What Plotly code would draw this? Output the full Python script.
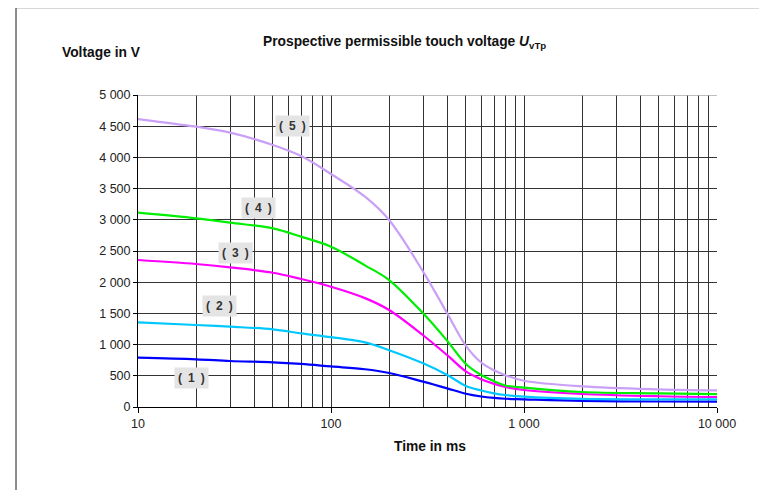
import math
import plotly.graph_objects as go

time_ms = [10, 20, 30, 50, 70, 100, 150, 200, 300, 400, 500, 600, 700, 800, 1000, 2000, 5000, 10000]

curve_1 = [790, 764, 737, 716, 690, 650, 605, 545, 406, 299, 212, 168, 145, 132, 123, 98, 88, 85]
curve_2 = [1357, 1314, 1287, 1245, 1180, 1120, 1035, 910, 700, 513, 337, 265, 219, 192, 165, 130, 123, 123]
curve_3 = [2356, 2292, 2238, 2152, 2051, 1928, 1745, 1555, 1150, 830, 570, 445, 370, 320, 272, 208, 172, 160]
curve_4 = [3114, 3023, 2954, 2863, 2730, 2569, 2270, 2035, 1501, 1060, 690, 513, 414, 345, 310, 240, 219, 206]
curve_5 = [4615, 4492, 4396, 4199, 4022, 3734, 3370, 2997, 2169, 1501, 980, 713, 588, 510, 420, 330, 283, 267]

curves = [curve_1, curve_2, curve_3, curve_4, curve_5]
curve_names = ["( 1 )", "( 2 )", "( 3 )", "( 4 )", "( 5 )"]
curve_colors = ["#0000FF", "#00C8FF", "#FF00FF", "#00EE00", "#C9A0F5"]

label_x = [18.96, 26.56, 32.14, 41.92, 62.85]
label_y = [470, 1619, 2463, 3194, 4503]

y_ticks = [0, 500, 1000, 1500, 2000, 2500, 3000, 3500, 4000, 4500, 5000]
y_ticktext = ["0", "500", "1 000", "1 500", "2 000", "2 500", "3 000", "3 500", "4 000", "4 500", "5 000"]
x_ticks = [10, 100, 1000, 10000]
x_ticktext = ["10", "100", "1 000", "10 000"]
x_minor = [m * d for d in [10, 100, 1000] for m in range(2, 10)]

fig = go.Figure()
for vals, name, col in zip(curves, curve_names, curve_colors):
    fig.add_trace(go.Scatter(
        x=time_ms, y=vals, mode="lines", name=name,
        line=dict(color=col, width=2.2, shape="spline", smoothing=1.0),
        showlegend=False, hoverinfo="x+y"))

for lx, ly, txt in zip(label_x, label_y, curve_names):
    fig.add_annotation(x=math.log10(lx), y=ly, xref="x", yref="y",
                       text="<b>" + txt.replace(" ", "\u2002") + "</b>", showarrow=False,
                       font=dict(family="Liberation Sans", size=12, color="#333333"),
                       bgcolor="#E4E4E4", borderpad=3, xanchor="center", yanchor="middle")

grid_col = "#333333"
fig.update_xaxes(
    type="log", range=[1, 4], tickvals=x_ticks, ticktext=x_ticktext,
    showgrid=True, gridcolor=grid_col, gridwidth=1,
    ticks="outside", ticklen=5, tickcolor="#000000",
    minor=dict(tickvals=x_minor, showgrid=True, gridcolor=grid_col, gridwidth=1, ticks=""),
    showline=True, linecolor="#000000", linewidth=1, zeroline=False,
    tickfont=dict(family="Liberation Sans", size=12.5, color="#222222"))
fig.update_yaxes(
    range=[0, 5000], tickvals=y_ticks, ticktext=y_ticktext,
    showgrid=True, gridcolor=grid_col, gridwidth=1,
    ticks="outside", ticklen=4, tickcolor="#000000",
    showline=True, linecolor="#000000", linewidth=1, zeroline=False,
    tickfont=dict(family="Liberation Sans", size=12.5, color="#222222"))

# lighter top edge
fig.add_shape(type="line", xref="paper", yref="y", x0=0, x1=1, y0=5000, y1=5000,
              line=dict(color="#AAAAAA", width=1.5), layer="above")
# outer frame (left and top edges)
fig.add_shape(type="line", xref="paper", yref="paper", x0=-0.2107, x1=-0.2107, y0=-0.3, y1=1.2804,
              line=dict(color="#666666", width=1.5))
fig.add_shape(type="line", xref="paper", yref="paper", x0=-0.2107, x1=1.2, y0=1.2804, y1=1.2804,
              line=dict(color="#666666", width=1.5))

title_font = dict(family="Liberation Sans", size=13.8, color="#111111")
fig.add_annotation(xref="paper", yref="paper", x=0.461, y=1.1667, showarrow=False,
                   text="<b>Prospective permissible touch voltage <i>U</i><sub>vTp</sub></b>",
                   font=title_font, xanchor="center", yanchor="middle")
fig.add_annotation(xref="paper", yref="paper", x=-0.1347, y=1.1378, showarrow=False,
                   text="<b>Voltage in V</b>", font=title_font,
                   xanchor="left", yanchor="middle")
fig.add_annotation(xref="paper", yref="paper", x=0.504, y=-0.128, showarrow=False,
                   text="<b>Time in ms</b>", font=title_font,
                   xanchor="center", yanchor="middle")

fig.update_layout(
    width=759, height=482,
    margin=dict(l=130, r=50, t=87, b=83, autoexpand=False),
    paper_bgcolor="white", plot_bgcolor="white",
    font=dict(family="Liberation Sans"))

fig.write_html("out.html")
